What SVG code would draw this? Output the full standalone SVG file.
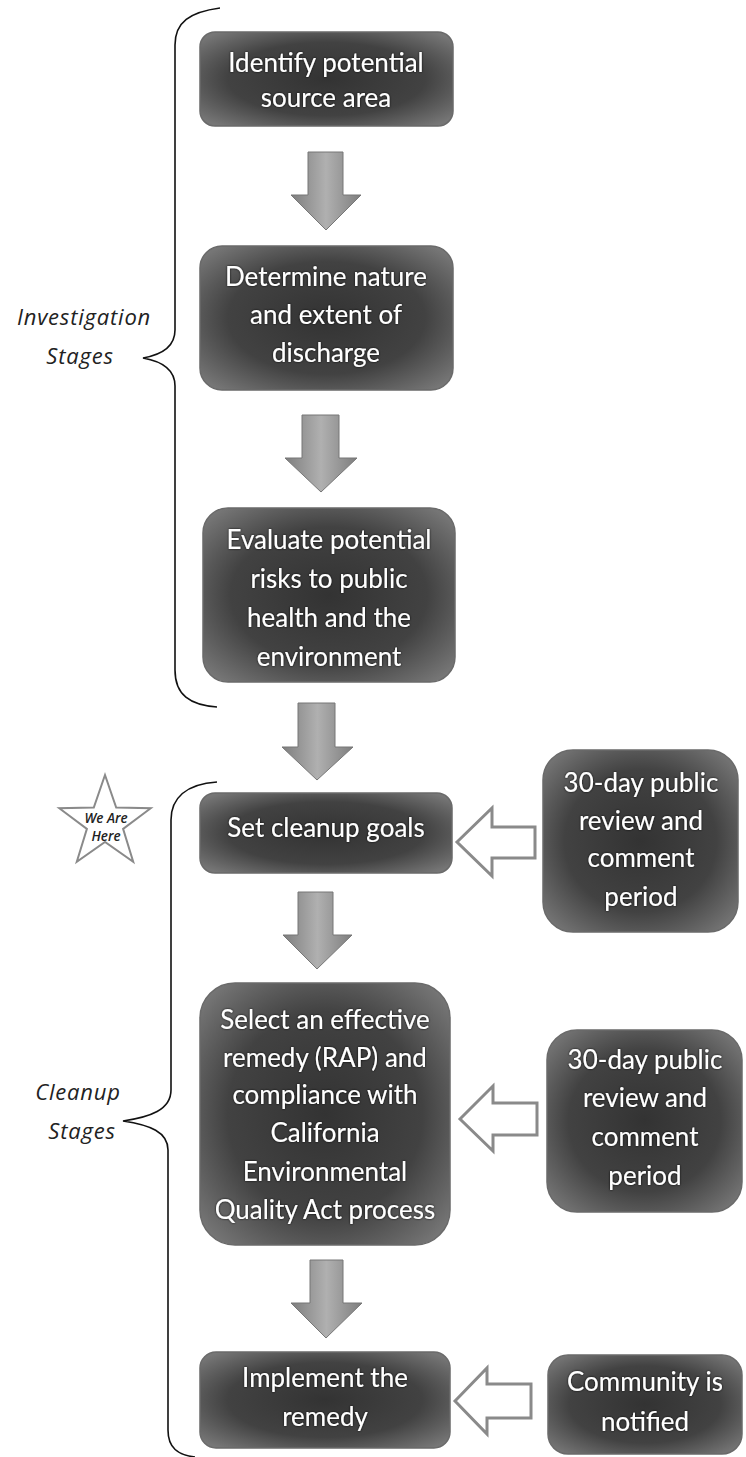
<svg xmlns="http://www.w3.org/2000/svg" width="746" height="1457" viewBox="0 0 746 1457">
<defs>
<radialGradient id="boxg" cx="50%" cy="50%" r="65%">
<stop offset="0" stop-color="#333333"/>
<stop offset="0.6" stop-color="#424242"/>
<stop offset="1" stop-color="#767676"/>
</radialGradient>
<linearGradient id="arrg" x1="0" y1="0" x2="1" y2="0">
<stop offset="0" stop-color="#7e7e7e"/>
<stop offset="0.5" stop-color="#b0b0b0"/>
<stop offset="1" stop-color="#7e7e7e"/>
</linearGradient>
<filter id="tsh" x="-10%" y="-20%" width="120%" height="140%">
<feDropShadow dx="0" dy="0" stdDeviation="1.2" flood-color="#000" flood-opacity="0.9"/>
</filter>
</defs>
<style>
.box{fill:url(#boxg);stroke:#6a6a6a;stroke-width:1.5}
.bt{font-family:Lato,"Liberation Sans",sans-serif;font-size:26px;fill:#ffffff;text-anchor:middle}
.lbl{font-family:"Open Sans","Liberation Sans",sans-serif;font-style:italic;font-weight:400;font-size:22px;fill:#222;text-anchor:middle;letter-spacing:0.8px}
.brk{fill:none;stroke:#111;stroke-width:1.6}
.down{fill:url(#arrg);stroke:#777;stroke-width:1}
.hol{fill:#ffffff;stroke:#8a8a8a;stroke-width:3;stroke-linejoin:miter}
.star{fill:#ffffff;stroke:#8a8a8a;stroke-width:2}
.st{font-family:"Open Sans","Liberation Sans",sans-serif;font-style:italic;font-weight:600;font-size:13.5px;fill:#222;text-anchor:middle}
</style>

<g id="brackets">
<path class="brk" d="M220,8 C190,12 175,22 175,45 L175,330 C175,348 160,355 143,358 C160,361 175,368 175,386 L175,670 C175,695 190,705 217,707"/>
<path class="brk" d="M217,782 C186,784 171,798 171,820 L171,1090 C171,1110 150,1117 123,1121 C150,1125 168,1132 168,1150 L168,1430 C168,1448 178,1455 195,1457"/>
<text class="lbl" x="84" y="325">Investigation</text>
<text class="lbl" x="80" y="364">Stages</text>
<text class="lbl" x="78" y="1100">Cleanup</text>
<text class="lbl" x="82" y="1139">Stages</text>
</g>

<g id="connectors">
<path class="down" d="M308,152 L343,152 L343,195 L361,195 L326,230 L291,195 L308,195 Z"/>
<path class="down" d="M302,415 L339,415 L339,458 L357,458 L321,492 L285,458 L302,458 Z"/>
<path class="down" d="M298,703 L335,703 L335,747 L353,747 L317,780 L282,747 L298,747 Z"/>
<path class="down" d="M298,892 L333,892 L333,935 L352,935 L317,969 L283,935 L298,935 Z"/>
<path class="down" d="M310,1260 L343,1260 L343,1303 L362,1303 L326,1338 L291,1303 L310,1303 Z"/>
<path class="hol" d="M457,842 L492,808 L492,827 L535,827 L535,858 L492,858 L492,876 Z"/>
<path class="hol" d="M460,1119 L493,1086 L493,1103 L537,1103 L537,1135 L493,1135 L493,1151 Z"/>
<path class="hol" d="M455,1401 L487,1368 L487,1384 L531,1384 L531,1418 L487,1418 L487,1434 Z"/>
</g>

<g id="n1">
<rect class="box" x="200" y="32" width="253" height="94" rx="15"/>
<g filter="url(#tsh)"><text class="bt" x="326" y="72">Identify potential</text><text class="bt" x="326" y="107">source area</text></g>
</g>
<g id="n2">
<rect class="box" x="200" y="246" width="253" height="144" rx="22"/>
<g filter="url(#tsh)"><text class="bt" x="326" y="286">Determine nature</text><text class="bt" x="326" y="324">and extent of</text><text class="bt" x="326" y="362">discharge</text></g>
</g>
<g id="n3">
<rect class="box" x="203" y="508" width="252" height="174" rx="25"/>
<g filter="url(#tsh)"><text class="bt" x="329" y="549">Evaluate potential</text><text class="bt" x="329" y="588">risks to public</text><text class="bt" x="329" y="627">health and the</text><text class="bt" x="329" y="666">environment</text></g>
</g>
<g id="n4">
<rect class="box" x="200" y="793" width="252" height="80" rx="15"/>
<g filter="url(#tsh)"><text class="bt" x="326" y="837">Set cleanup goals</text></g>
</g>
<g id="n5">
<rect class="box" x="200" y="983" width="250" height="262" rx="35"/>
<g filter="url(#tsh)"><text class="bt" x="325" y="1029">Select an effective</text><text class="bt" x="325" y="1067">remedy (RAP) and</text><text class="bt" x="325" y="1104">compliance with</text><text class="bt" x="325" y="1142">California</text><text class="bt" x="325" y="1181">Environmental</text><text class="bt" x="325" y="1219">Quality Act process</text></g>
</g>
<g id="n6">
<rect class="box" x="200" y="1352" width="250" height="96" rx="16"/>
<g filter="url(#tsh)"><text class="bt" x="325" y="1387">Implement the</text><text class="bt" x="325" y="1426">remedy</text></g>
</g>
<g id="r1">
<rect class="box" x="543" y="750" width="195" height="182" rx="30"/>
<g filter="url(#tsh)"><text class="bt" x="641" y="792">30-day public</text><text class="bt" x="641" y="830">review and</text><text class="bt" x="641" y="867">comment</text><text class="bt" x="641" y="906">period</text></g>
</g>
<g id="r2">
<rect class="box" x="547" y="1030" width="195" height="182" rx="30"/>
<g filter="url(#tsh)"><text class="bt" x="645" y="1069">30-day public</text><text class="bt" x="645" y="1107">review and</text><text class="bt" x="645" y="1146">comment</text><text class="bt" x="645" y="1185">period</text></g>
</g>
<g id="r3">
<rect class="box" x="548" y="1355" width="194" height="99" rx="20"/>
<g filter="url(#tsh)"><text class="bt" x="645" y="1391">Community is</text><text class="bt" x="645" y="1431">notified</text></g>
</g>
<g id="star">
<polygon class="star" points="105,775 116.2,807.6 150.7,808.2 123.1,828.9 133.2,861.8 105,842 76.8,861.8 86.9,828.9 59.3,808.2 93.8,807.6"/>
<text class="st" x="106" y="823">We Are</text>
<text class="st" x="106" y="841">Here</text>
</g>
</svg>
